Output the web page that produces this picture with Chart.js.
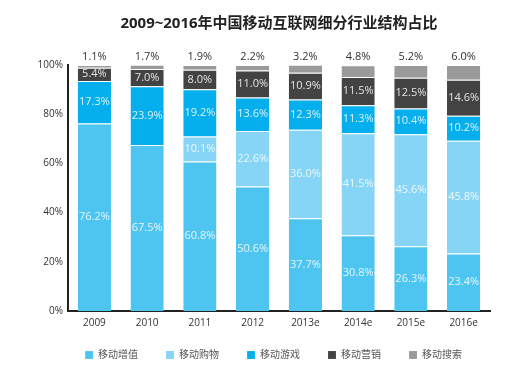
<!DOCTYPE html>
<html>
<head>
<meta charset="utf-8">
<script src="https://cdn.jsdelivr.net/npm/chart.js"></script>
<style>
    html, body {margin: 0; padding: 0; background: #fff}
    #wrap {width: 509px; height: 367px}
</style>
</head>
<body>
<div id="wrap"><canvas id="chart"></canvas></div>
<script>
let YEARS = ["2009", "2010", "2011", "2012", "2013e", "2014e", "2015e", "2016e"]
let ZENGZHI = [76.2, 67.5, 60.8, 50.6, 37.7, 30.8, 26.3, 23.4]
let GOUWU = [0, 0, 10.1, 22.6, 36.0, 41.5, 45.6, 45.8]
let YOUXI = [17.3, 23.9, 19.2, 13.6, 12.3, 11.3, 10.4, 10.2]
let YINGXIAO = [5.4, 7.0, 8.0, 11.0, 10.9, 11.5, 12.5, 14.6]
let SOUSUO = [1.1, 1.7, 1.9, 2.2, 3.2, 4.8, 5.2, 6.0]
let Y_TICKS = [0, 20, 40, 60, 80, 100]

let FONT = "'Open Sans', 'Noto Sans CJK SC', sans-serif"

// labels in the middle of each segment, the last series above the bar
let segmentLabels = {
    id: "segmentLabels",
    afterDatasetsDraw(chart) {
        let ctx = chart.ctx
        ctx.save()
        ctx.font = `11px ${FONT}`
        ctx.textAlign = "center"
        ctx.textBaseline = "middle"
        let last = chart.data.datasets.length - 1
        chart.data.datasets.forEach((ds, i) => {
            chart.getDatasetMeta(i).data.forEach((bar, j) => {
                let v = ds.data[j]
                if (!v) return
                let text = v.toFixed(1) + "%"
                if (i === last) {
                    ctx.fillStyle = "#333"
                    ctx.fillText(text, bar.x, bar.y - 8)
                } else {
                    ctx.fillStyle = "rgba(255,255,255,0.85)"
                    ctx.fillText(text, bar.x, (bar.y + bar.base) / 2)
                }
            })
        })
        ctx.restore()
    }
}

function makeSet(label, data, color) {
    return {
        label: label,
        data: data,
        backgroundColor: color,
        borderColor: "rgba(255,255,255,0.5)",
        borderWidth: {top: 1, bottom: 0, left: 0, right: 0},
        borderSkipped: false,
        barPercentage: 0.63,
        categoryPercentage: 1,
    }
}

new Chart(document.getElementById("chart"), {
    type: "bar",
    data: {
        labels: YEARS,
        datasets: [
            makeSet("移动增值", ZENGZHI, "#4ec5f1"),
            makeSet("移动购物", GOUWU, "#86d5f6"),
            makeSet("移动游戏", YOUXI, "#05aeec"),
            makeSet("移动营销", YINGXIAO, "#434343"),
            makeSet("移动搜索", SOUSUO, "#9a9a9a"),
        ]
    },
    options: {
        responsive: true,
        maintainAspectRatio: false,
        animation: false,
        layout: {padding: {left: 0, right: 19, top: 0, bottom: -3}},
        plugins: {
            title: {
                display: true,
                fullSize: false,
                text: "2009~2016年中国移动互联网细分行业结构占比",
                color: "#222",
                font: {family: FONT, size: 15, weight: "bold"},
                padding: {top: 15, bottom: 32}
            },
            legend: {
                position: "bottom",
                align: "end",
                labels: {
                    color: "#555",
                    boxWidth: 8,
                    boxHeight: 8,
                    padding: 15,
                    font: {family: FONT, size: 10},
                    // trailing spaces widen the gap between items without adding row height
                    generateLabels: chart => Chart.defaults.plugins.legend.labels.generateLabels(chart)
                        .map(item => ({...item, text: item.text + "     "}))
                }
            },
            tooltip: {enabled: false}
        },
        scales: {
            x: {
                stacked: true,
                grid: {display: false, drawTicks: false},
                border: {color: "#222", width: 2},
                ticks: {color: "#333", padding: 6, font: {family: FONT, size: 10}},
            },
            y: {
                stacked: true,
                min: 0,
                max: 100,
                afterBuildTicks: axis => {
                    axis.ticks = Y_TICKS.map(v => ({value: v}))
                },
                afterFit: axis => {
                    axis.width = 68
                },
                grid: {display: false, drawTicks: false},
                border: {color: "#222", width: 2},
                ticks: {color: "#333", padding: 5, font: {family: FONT, size: 10}, callback: v => v + "%"},
            }
        }
    },
    plugins: [segmentLabels]
})
</script>
</body>
</html>
